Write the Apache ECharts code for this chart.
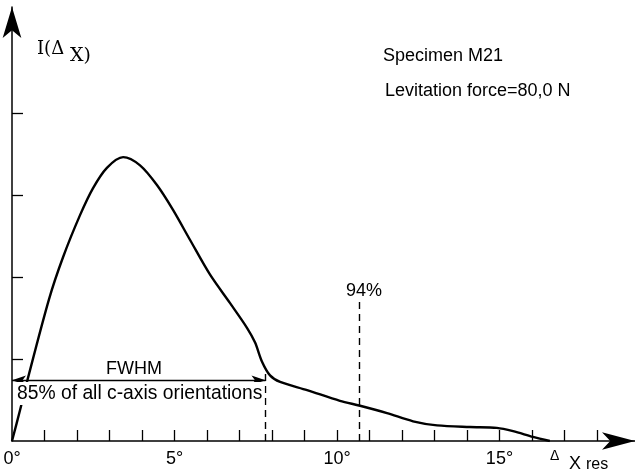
<!DOCTYPE html>
<html>
<head>
<meta charset="utf-8">
<script src="https://cdn.jsdelivr.net/npm/echarts@6/dist/echarts.min.js"></script>
<style>
  html, body { margin: 0; padding: 0; background: #fff; }
  #chart { width: 635px; height: 475px; }
</style>
</head>
<body>
<div id="chart"></div>
<script>
// 曲线数据
const xDeg = [0, 0.25, 0.46, 1.14, 1.57, 2.09, 2.49, 2.92, 3.42, 3.94, 4.46, 4.95, 5.48, 6.09, 6.71, 7.23, 7.48, 7.69, 7.94, 8.25, 9.08, 10.09, 10.71, 11.54, 12.34, 13.08, 14.09, 14.92, 15.42, 16.03, 16.55];
const intensity = [0, 0.38, 0.72, 1.73, 2.24, 2.75, 3.08, 3.33, 3.46, 3.36, 3.12, 2.82, 2.45, 2.03, 1.68, 1.38, 1.20, 0.97, 0.80, 0.72, 0.62, 0.49, 0.43, 0.34, 0.24, 0.19, 0.17, 0.16, 0.12, 0.05, 0];
const xTicks = [1, 2, 3, 4, 5, 6, 7, 8, 9, 10, 11, 12, 13, 14, 15, 16, 17, 18];
const xLabels = [0, 5, 10, 15];
const yTicks = [1, 2, 3, 4];

// 标注
const fwhmEdge = 7.8;
const fwhmLevel = 0.74;
const fwhmTop = 0.88;
const pct94 = 10.7;
const pct94Top = 1.7;

const font = '"Liberation Sans", Arial, sans-serif';
const chart = echarts.init(document.getElementById('chart'));

const curve = xDeg.map((x, i) => [x, intensity[i]]);

const option = {
    animation: false,
    backgroundColor: '#fff',
    grid: { left: 12, right: 0, top: 7, bottom: 34 },
    xAxis: {
        type: 'value',
        min: 0,
        max: 19.17,
        interval: 1,
        splitLine: { show: false },
        axisLine: {
            symbol: ['none', 'arrow'],
            symbolSize: [13, 33],
            lineStyle: { color: '#000', width: 1.5 }
        },
        axisTick: { inside: true, length: 11, customValues: xTicks, lineStyle: { color: '#000', width: 1.3 } },
        axisLabel: {
            margin: 9,
            color: '#000',
            fontSize: 18,
            fontFamily: font,
            customValues: xLabels,
            formatter: v => v + '°'
        }
    },
    yAxis: {
        type: 'value',
        min: 0,
        max: 5.29,
        interval: 1,
        splitLine: { show: false },
        axisLine: {
            symbol: ['none', 'arrow'],
            symbolSize: [14, 31],
            lineStyle: { color: '#000', width: 1.5 }
        },
        axisTick: { inside: true, length: 11, customValues: yTicks, lineStyle: { color: '#000', width: 1.3 } },
        axisLabel: { show: false }
    },
    series: [{
        type: 'line',
        data: curve,
        smooth: 0.3,
        showSymbol: false,
        lineStyle: { color: '#000', width: 2.4 },
        markLine: {
            silent: true,
            animation: false,
            label: { show: false },
            symbol: ['none', 'none'],
            data: [
                [
                    { coord: [0, fwhmLevel], symbol: 'arrow', symbolSize: [7, 14], lineStyle: { color: '#000', width: 1.4, type: 'solid' } },
                    { coord: [fwhmEdge, fwhmLevel], symbol: 'arrow', symbolSize: [7, 14] }
                ],
                [
                    { coord: [fwhmEdge, 0], lineStyle: { color: '#000', width: 1.4, type: [7, 5] } },
                    { coord: [fwhmEdge, fwhmTop] }
                ],
                [
                    { coord: [pct94, 0], lineStyle: { color: '#000', width: 1.4, type: [7, 5] } },
                    { coord: [pct94, pct94Top] }
                ]
            ]
        }
    }],
    graphic: [
        { type: 'text', left: 37, top: 40, style: { text: 'I(Δ', font: '18px "DejaVu Serif", serif', fill: '#000' } },
        { type: 'text', left: 70, top: 47, style: { text: 'X)', font: '19px "DejaVu Serif", serif', fill: '#000' } },
        { type: 'text', left: 383, top: 47, style: { text: 'Specimen M21', font: '18px ' + font, fill: '#000' } },
        { type: 'text', left: 385, top: 82, style: { text: 'Levitation force=80,0 N', font: '18px ' + font, fill: '#000' } },
        { type: 'text', left: 346, top: 282, style: { text: '94%', font: '18px ' + font, fill: '#000' } },
        { type: 'text', left: 106, top: 360, style: { text: 'FWHM', font: '18px ' + font, fill: '#000' } },
        {
            type: 'text', left: 15, top: 382, z: 100,
            style: { text: '85% of all c-axis orientations', font: '19.3px ' + font, fill: '#000', backgroundColor: '#fff', padding: [2, 2, 2, 2] }
        },
        { type: 'text', left: 550, top: 449, style: { text: 'Δ', font: '14px ' + font, fill: '#000' } },
        { type: 'text', left: 569, top: 455, style: { text: 'X', font: '18px ' + font, fill: '#000' } },
        { type: 'text', left: 586, top: 457, style: { text: 'res', font: '16px ' + font, fill: '#000' } }
    ]
};

chart.setOption(option);
</script>
</body>
</html>
